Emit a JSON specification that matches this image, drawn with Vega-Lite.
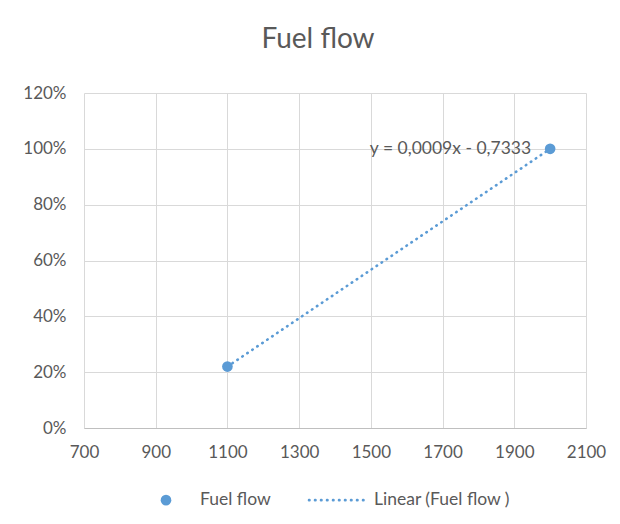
{
  "$schema": "https://vega.github.io/schema/vega-lite/v6.json",
  "width": 502,
  "height": 335,
  "autosize": {"type": "none"},
  "padding": {"left": 84, "top": 93, "right": 34, "bottom": 96},
  "background": "white",
  "title": {"text": "Fuel flow", "fontSize": 28, "font": "Lato", "fontWeight": "normal", "color": "#595959", "anchor": "middle", "dx": -17, "offset": 30},
  "config": {
    "view": {"stroke": null},
    "font": "Lato",
    "axis": {"gridColor": "#d9d9d9", "gridWidth": 1, "ticks": false, "labelFontSize": 17, "labelColor": "#595959", "labelFont": "Lato", "title": null, "labelFlush": false, "labelOverlap": false},
    "legend": {"layout": {"bottom": {"anchor": "middle"}}}
  },
  "datasets": {
    "points": [
      {"x": 1100, "y": 0.22, "series": "Fuel flow"},
      {"x": 2000, "y": 1.0, "series": "Fuel flow"}
    ],
    "trend": [
      {"x": 1100, "y": 0.22, "series": "Linear (Fuel flow )"},
      {"x": 2000, "y": 1.0, "series": "Linear (Fuel flow )"}
    ],
    "eq": [
      {"x": 2000, "y": 1.0, "label": "y = 0,0009x - 0,7333"}
    ]
  },
  "layer": [
    {
      "data": {"name": "trend"},
      "mark": {"type": "line", "strokeDash": [0.5, 5.5], "strokeCap": "round", "strokeWidth": 2.6},
      "encoding": {
        "x": {"field": "x", "type": "quantitative", "scale": {"domain": [700, 2100], "nice": false, "zero": false},
              "axis": {"values": [700, 900, 1100, 1300, 1500, 1700, 1900, 2100], "grid": true, "domain": true, "domainColor": "#bfbfbf", "domainWidth": 1, "labelPadding": 16, "format": "d"}},
        "y": {"field": "y", "type": "quantitative", "scale": {"domain": [0, 1.2], "nice": false},
              "axis": {"values": [0, 0.2, 0.4, 0.6, 0.8, 1.0, 1.2], "grid": true, "domain": false, "format": ".0%", "labelPadding": 18}},
        "color": {"field": "series", "type": "nominal",
                  "scale": {"domain": ["Fuel flow", "Linear (Fuel flow )"], "range": ["#5b9bd5", "#5b9bd5"]},
                  "legend": {
                    "orient": "bottom", "direction": "horizontal", "title": null,
                    "labelFontSize": 17.5, "labelColor": "#595959", "labelFont": "Lato",
                    "columnPadding": 32, "offset": 31,
                    "encode": {
                      "symbols": {
                        "update": {
                          "x": {"signal": "datum.value === 'Fuel flow' ? 6 : 28"},
                          "shape": {"signal": "datum.value === 'Fuel flow' ? 'circle' : 'stroke'"},
                          "size": {"signal": "datum.value === 'Fuel flow' ? 113 : 3136"},
                          "fill": {"signal": "datum.value === 'Fuel flow' ? '#5b9bd5' : 'transparent'"},
                          "stroke": {"value": "#5b9bd5"},
                          "strokeWidth": {"signal": "datum.value === 'Fuel flow' ? 0 : 2.6"},
                          "strokeDash": {"signal": "datum.value === 'Fuel flow' ? [1,0] : [0.5,5.5]"},
                          "strokeCap": {"value": "round"},
                          "opacity": {"value": 1}
                        }
                      },
                      "labels": {
                        "update": {
                          "x": {"signal": "datum.value === 'Fuel flow' ? 40 : 65"}
                        }
                      }
                    }
                  }}
      }
    },
    {
      "data": {"name": "points"},
      "mark": {"type": "point", "filled": true, "size": 113, "opacity": 1},
      "encoding": {
        "x": {"field": "x", "type": "quantitative"},
        "y": {"field": "y", "type": "quantitative"},
        "color": {"field": "series", "type": "nominal"}
      }
    },
    {
      "data": {"name": "eq"},
      "mark": {"type": "text", "align": "right", "baseline": "middle", "dx": -19, "fontSize": 17.5, "color": "#595959", "font": "Lato"},
      "encoding": {
        "x": {"field": "x", "type": "quantitative"},
        "y": {"field": "y", "type": "quantitative"},
        "text": {"field": "label"}
      }
    }
  ]
}
